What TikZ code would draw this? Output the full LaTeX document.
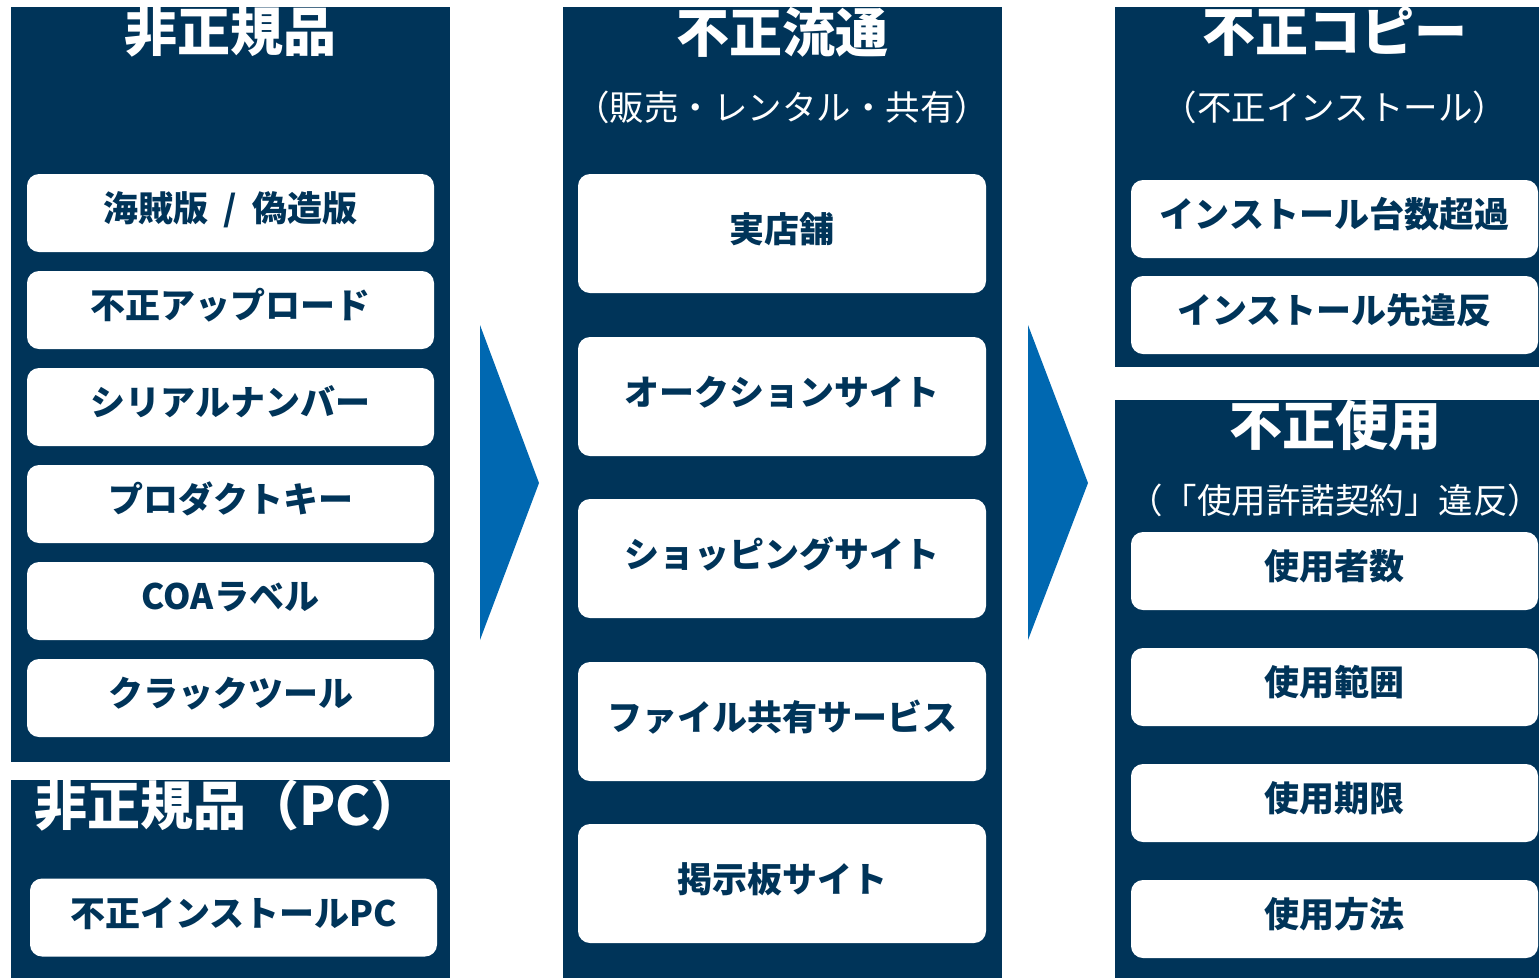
\documentclass[tikz,border=0pt]{standalone}
\usepackage{fontspec}
\setmainfont{Noto Sans CJK JP}
\definecolor{navy}{HTML}{003459}
\definecolor{arrowblue}{HTML}{0068B1}
\begin{document}
\begin{tikzpicture}[x=1pt,y=-1pt,
  panel/.style={fill=navy, inner sep=0pt, anchor=north west},
  item/.style={fill=white, rounded corners=12pt, text=navy, inner sep=0pt,
    font=\fontsize{35}{40}\selectfont\bfseries, text height=22pt, text depth=5pt,
    minimum width=407pt, minimum height=78pt},
  bigitem/.style={item, minimum width=408pt, minimum height=119pt},
  title/.style={text=white, inner sep=0pt, font=\fontsize{53}{60}\selectfont\bfseries},
  subtitle/.style={text=white, inner sep=0pt, font=\fontsize{34.5}{40}\selectfont},
  arrowshape/.style={fill=arrowblue}]
\useasboundingbox (0,0) rectangle (1539,978);
% panels
\node[panel, minimum width=439pt, minimum height=755pt] (p1) at (11,7) {};
\node[panel, minimum width=439pt, minimum height=198pt] (p1b) at (11,780) {};
\node[panel, minimum width=439pt, minimum height=971pt] (p2) at (563,7) {};
\node[panel, minimum width=424pt, minimum height=360pt] (p3) at (1115,7) {};
\node[panel, minimum width=424pt, minimum height=578pt] (p4) at (1115,400) {};
% titles
\node[title] (t1) at (230,32) {非正規品};
\node[title, anchor=west] (t1b) at (34,805) {非正規品（PC）};
\node[title] (t2) at (782,32) {不正流通};
\node[subtitle] (s2) at (782,107) {（販売・レンタル・共有）};
\node[title] (t3) at (1335,32) {不正コピー};
\node[subtitle] (s3) at (1335,107) {（不正インストール）};
\node[title] (t4) at (1335,425) {不正使用};
\node[subtitle] (s4) at (1335,500) {（「使用許諾契約」違反）};
% column 1 items
\node[item] (a1) at (230.5,213) {海賊版\hspace{0.45em}/\hspace{0.45em}偽造版};
\node[item] (a2) at (230.5,310) {不正アップロード};
\node[item] (a3) at (230.5,407) {シリアルナンバー};
\node[item] (a4) at (230.5,504) {プロダクトキー};
\node[item] (a5) at (230.5,601) {COAラベル};
\node[item] (a6) at (230.5,698) {クラックツール};
\node[item] (a7) at (233.5,917.5) {不正インストールPC};
% column 2 items
\node[bigitem] (b1) at (782,233.5) {実店舗};
\node[bigitem] (b2) at (782,396.5) {オークションサイト};
\node[bigitem] (b3) at (782,558.5) {ショッピングサイト};
\node[bigitem] (b4) at (782,721.5) {ファイル共有サービス};
\node[bigitem] (b5) at (782,883.5) {掲示板サイト};
% column 3 items
\node[item] (c1) at (1334.5,219) {インストール台数超過};
\node[item] (c2) at (1334.5,315) {インストール先違反};
\node[item] (d1) at (1334.5,571) {使用者数};
\node[item] (d2) at (1334.5,687) {使用範囲};
\node[item] (d3) at (1334.5,803) {使用期限};
\node[item] (d4) at (1334.5,919) {使用方法};
% arrows
\fill[arrowshape] (480,325) -- (539,483) -- (480,640) -- cycle;
\fill[arrowshape] (1028,325) -- (1088,483) -- (1028,640) -- cycle;
\end{tikzpicture}
\end{document}
